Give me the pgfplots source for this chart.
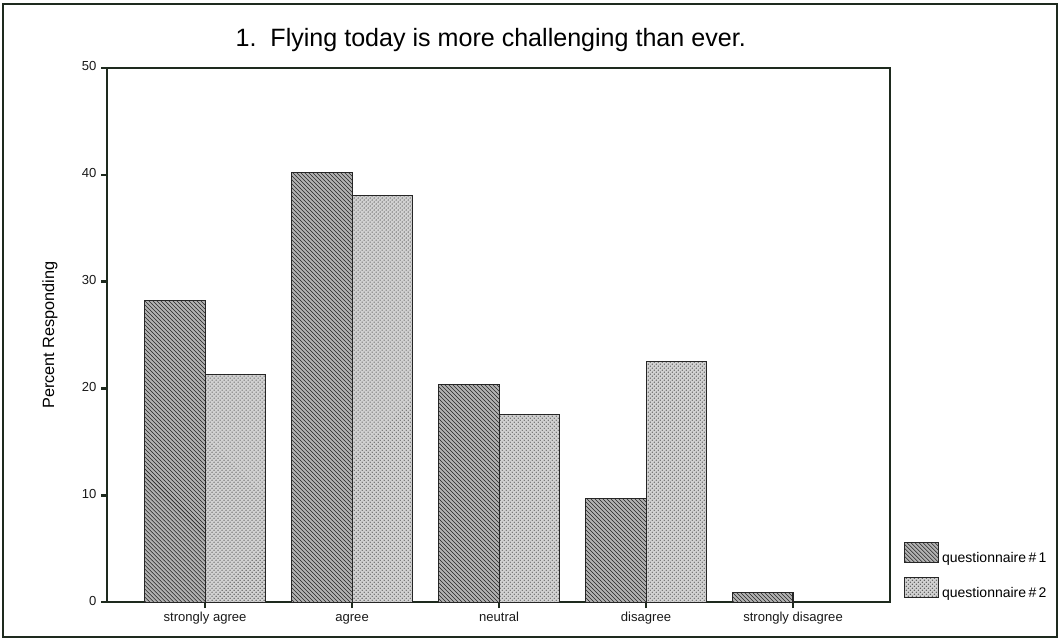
\documentclass[border=0pt]{standalone}
\usepackage{fontspec}
\setmainfont{Liberation Sans}
\usepackage{pgfplots}
\pgfplotsset{compat=1.18}
\usetikzlibrary{patterns}
\definecolor{axcol}{HTML}{1E2A1E}
\begin{document}
\begin{tikzpicture}
\begin{axis}[
  name=ax,
  scale only axis,
  width=587pt, height=400.5pt,
  xmin=-0.667, xmax=4.66,
  ymin=0, ymax=50,
  ytick={0,10,20,30,40,50},
  xtick={0,1,2,3,4},
  xticklabels={strongly agree,agree,neutral,disagree,strongly disagree},
  xtick pos=bottom, ytick pos=left,
  tick align=outside,
  major tick length=4.5pt,
  every major tick/.append style={axcol, line width=1.8pt},
  axis line style={axcol, line width=1.1pt},
  /pgf/number format/assume math mode=true,
  typeset ticklabels with strut,
  tick label style={font=\fontsize{9.8}{11}\selectfont, text=black!90},
  xticklabel style={yshift=1pt},
  yticklabel style={xshift=0pt},
  ylabel={Percent Responding},
  ylabel style={font=\fontsize{12.2}{13}\selectfont, at={(rel axis cs:-0.073,0.5)}, anchor=center},
  ybar=0pt,
  bar width=0.41,
  clip=false,
  legend style={draw=none, fill=none, at={(rel axis cs:1.012,0.118)}, anchor=north west,
    font=\fontsize{10.5}{11}\selectfont, row sep=7pt, cells={anchor=west}},
  legend cell align=left,
  legend image code/.code={\draw[#1] (0pt,-3pt) rectangle (26pt,12pt);},
]
\addplot[bar shift=-0.205, draw=black!85, line width=0.8pt, fill=gray!60,
  postaction={pattern=north west lines, pattern color=black!85}]
  coordinates {(0,28.2) (1,40.2) (2,20.4) (3,9.7) (4,0.9)};
\addlegendentry{questionnaire\,\#\,1}
\addplot[bar shift=0.205, draw=black!85, line width=0.8pt, fill=gray!35,
  postaction={pattern=crosshatch dots, pattern color=black!65}]
  coordinates {(0,21.3) (1,38.1) (2,17.6) (3,22.5)};
\addlegendentry{questionnaire\,\#\,2}
\node[font=\fontsize{18.8}{20}\selectfont, anchor=center] at (rel axis cs:0.49,1.052) {1.\ \ Flying today is more challenging than ever.};
\coordinate (bl) at (rel axis cs:-0.1367,-0.0712);
\coordinate (tr) at (rel axis cs:1.2158,1.1273);
\end{axis}
\pgfresetboundingbox
\path[use as bounding box] (bl) rectangle (tr);
\draw[axcol, line width=1.6pt] ([shift={(2.5pt,2.5pt)}]bl) rectangle ([shift={(-1.5pt,-3pt)}]tr);
\end{tikzpicture}
\end{document}
